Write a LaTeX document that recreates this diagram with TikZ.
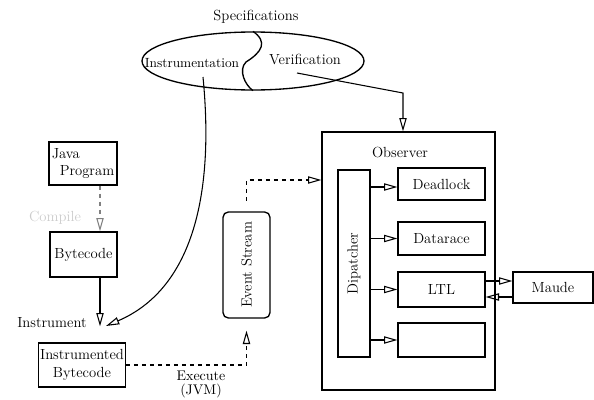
\documentclass[tikz,border=0pt]{standalone}
\usetikzlibrary{arrows.meta,shapes.geometric}
\begin{document}
\begin{tikzpicture}[x=0.75pt,y=-0.75pt,thick,inner sep=0.1em,
    font=\fontsize{11}{13}\selectfont,
    box/.style={rectangle,draw,line width=1pt},
    arr/.style={-{Triangle[open,length=10pt,width=5.5pt]}}]
    \useasboundingbox (0,0) rectangle (594,400);
    %specifications
    \node (spectext) at (256,17) {Specifications};
    \node (spec) at (253,61) [ellipse,draw,line width=1pt,minimum width=166.5pt,minimum height=43.5pt]{};
    \draw [line width=1pt] (spec.north) .. controls (268,42) and (262,52) .. (246,62) .. controls (238,70) and (245,85) .. (spec.south);
    \node (instr) at (192,63) [font=\fontsize{10}{12}\selectfont]{Instrumentation};
    \node (verif) at (305,59) {Verification};
    \coordinate (ia) at (203,77);
    \coordinate (va) at (297,73);
    
    %left column
    \node (java) at (83,163.5) [box,minimum width=51pt,minimum height=32.25pt,align=left]{Java\\\hspace*{6pt}Program};
    \node (bc) at (83.5,254.5) [box,minimum width=50.25pt,minimum height=33.75pt]{Bytecode};
    \node (ib) at (82,365) [box,minimum width=49.5pt,minimum height=33pt,align=center]{Instrumented\\Bytecode};
    \node (comp) at (55,218) [gray!40]{Compile};
    \node (inst) at (52,323) {Instrument};
    \node (exec) at (201,370) [anchor=north,inner sep=0pt,align=center,font=\fontsize{10.5}{11}\selectfont]{Execute\\(JVM)};
    
    \draw [arr,dashed,gray] (java.south -| 100,0) -- (bc.north -| 100,0);
    \draw [arr,shorten >=12pt] (bc.south -| 100,0) -- (ib.north -| 100,0);
    \coordinate (it) at (106,326);
    \draw [arr] (ia) .. controls (215,200) and (190,290) .. (it);
    
    %event stream
    \node (es) at (246.5,265) [box,rounded corners=4pt,minimum width=35.25pt,minimum height=79.5pt]{};
    \node (estext) at (es.center) [rotate=90]{Event Stream};
    \draw [arr,dashed,shorten >=9pt] (ib.east) -- (ib.east -| es.south) -- (es.south);
    
    %observer
    \node (obs) at (408.5,261) [box,minimum width=129.75pt,minimum height=193.5pt]{};
    \node (obstext) at (400,152) {Observer};
    \node (disp) at (354,263.5) [box,minimum width=24pt,minimum height=140.25pt]{};
    \node (disptext) at (disp.center) [rotate=90]{Dipatcher};
    \node (dead) at (441.5,184) [box,minimum width=65.25pt,minimum height=24pt]{Deadlock};
    \node (race) at (441.5,238.5) [box,minimum width=65.25pt,minimum height=24.75pt]{Datarace};
    \node (ltl) at (441.5,289.5) [box,minimum width=65.25pt,minimum height=26.25pt]{LTL};
    \node (empty) at (441.5,340) [box,minimum width=65.25pt,minimum height=25.5pt]{};
    \node (maude) at (553,287.5) [box,minimum width=60pt,minimum height=23.25pt]{Maude};
    
    \coordinate (entry) at (obs.west |- 0,180);
    \draw [arr,dashed,shorten <=8pt] (es.north) -- (es.north |- entry) -- (entry);
    \coordinate (vb) at (403,93);
    \draw [arr] (va) -- (vb) -- (vb |- obs.north);
    
    \draw [arr] (disp.east |- 0,187) -- (dead.west |- 0,187);
    \draw [arr] (disp.east |- race.west) -- (race.west);
    \draw [arr] (disp.east |- ltl.west) -- (ltl.west);
    \draw [arr] (disp.east |- empty.west) -- (empty.west);
    \draw [arr] (ltl.east |- 0,281) -- (maude.west |- 0,281);
    \draw [arr] (maude.west |- 0,297) -- (ltl.east |- 0,297);
     
\end{tikzpicture}
\end{document}
